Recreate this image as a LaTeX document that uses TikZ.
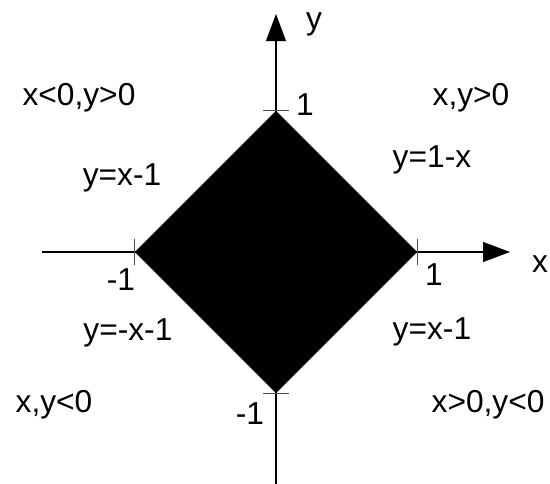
\documentclass[tikz,border=0pt]{standalone}
\usepackage{fontspec}
\setmainfont{Liberation Sans}
\usetikzlibrary{arrows.meta}
\begin{document}
\begin{tikzpicture}[x=2.5cm, y=2.5cm,
  lbl/.style={anchor=base, inner sep=0pt, font=\fontsize{16}{19}\selectfont},
  axis/.style={line width=1pt, -{Triangle[length=4.8mm,width=3.5mm]}},
  tk/.style={line width=0.5pt, black!70}]
\useasboundingbox (-1.957,-1.645) rectangle (1.943,1.787);
\coordinate (xl) at (-1.66,0);
\coordinate (xr) at (1.66,0);
\coordinate (yb) at (0,-1.7);
\coordinate (yt) at (0,1.688);
\coordinate (T) at (0,1);
\coordinate (R) at (1,0);
\coordinate (B) at (0,-1);
\coordinate (L) at (-1,0);
\fill (T) -- (R) -- (B) -- (L) -- cycle;
\draw[axis] (xl) -- (xr);
\draw[axis] (yb) -- (yt);
\foreach \v in {L,R}{
  \draw[tk] ([yshift=-2.3mm]\v) -- ([yshift=2.3mm]\v);}
\foreach \v in {T,B}{
  \draw[tk] ([xshift=-2.3mm]\v) -- ([xshift=2.3mm]\v);}
\node[lbl] (xlab) at (1.872,-0.142) {x};
\node[lbl] (ylab) at (0.27,1.58) {y};
\node[lbl] (one1) at (0.206,0.97) {1};
\node[lbl] (one2) at (1.12,-0.234) {1};
\node[lbl] (mone1) at (-1.099,-0.27) {-1};
\node[lbl] (mone2) at (-0.184,-1.22) {-1};
\node[lbl] (q1) at (1.383,1.04) {x,y>0};
\node[lbl] (q2) at (-1.397,1.04) {x<0,y>0};
\node[lbl] (q3) at (-1.574,-1.135) {x,y<0};
\node[lbl] (q4) at (1.504,-1.135) {x>0,y<0};
\node[lbl] (e1) at (1.106,0.596) {y=1-x};
\node[lbl] (e2) at (-1.092,0.475) {y=x-1};
\node[lbl] (e3) at (-1.05,-0.624) {y=-x-1};
\node[lbl] (e4) at (1.106,-0.617) {y=x-1};
\end{tikzpicture}
\end{document}
